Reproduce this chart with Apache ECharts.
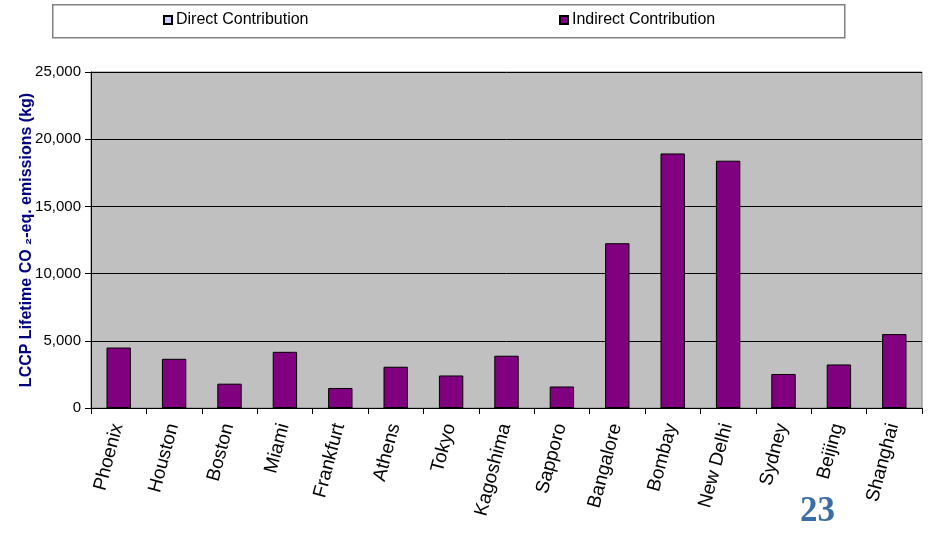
<!DOCTYPE html>
<html>
<head>
<meta charset="utf-8">
<script src="https://cdn.jsdelivr.net/npm/echarts@6/dist/echarts.min.js"></script>
<style>
html,body{margin:0;padding:0;background:#fff;}
#c{width:932px;height:534px;}
</style>
</head>
<body>
<div id="c"></div>
<script>
const categories = ["Phoenix","Houston","Boston","Miami","Frankfurt","Athens","Tokyo","Kagoshima","Sapporo","Bangalore","Bombay","New Delhi","Sydney","Beijing","Shanghai"];
const directValues = [0,0,0,0,0,0,0,0,0,0,0,0,0,0,0];
const indirectValues = [4500,3660,1810,4180,1490,3070,2420,3890,1600,12260,18940,18400,2530,3240,5500];
const yTicks = [0,5000,10000,15000,20000,25000];
const seriesNames = ["Direct Contribution","Indirect Contribution"];

const chart = echarts.init(document.getElementById('c'), null, {renderer:'canvas'});
const font = '"Liberation Sans", Arial, sans-serif';
const legendCommon = {
  itemWidth:8, itemHeight:8, itemGap:0, padding:0, top:12,
  textStyle:{fontFamily:font, fontSize:16, color:'#000', padding:[0,0,0,-1]},
  icon:'rect'
};
chart.setOption({
  animation:false,
  backgroundColor:'#ffffff',
  legend:[
    Object.assign({data:[seriesNames[0]], left:163}, legendCommon),
    Object.assign({data:[seriesNames[1]], left:559}, legendCommon)
  ],
  graphic:[
    {type:'rect', left:52, top:4, shape:{width:792,height:33}, style:{fill:'#fff', stroke:'#808080', lineWidth:1.5}, silent:true, z:-10},
    {type:'text', left:800, top:494, style:{text:'23', font:'bold 35px "Liberation Serif", "Times New Roman", serif', fill:'#3A6EA5'}}
  ],
  grid:{left:91, right:10, top:72, bottom:126, show:true, backgroundColor:'#C0C0C0', borderColor:'#808080', borderWidth:1},
  xAxis:{
    type:'category', data:categories,
    axisLine:{show:true, lineStyle:{color:'#000', width:1}},
    axisTick:{show:true, length:6, lineStyle:{color:'#000'}},
    axisLabel:{rotate:75, fontFamily:font, fontSize:19, color:'#000', margin:12, interval:0, padding:[0,4,22,0]}
  },
  yAxis:{
    type:'value', min:0, max:25000, interval:5000,
    name:'LCCP Lifetime CO ₂-eq. emissions (kg)',
    nameLocation:'middle', nameGap:56, nameMoveOverlap:false,
    nameTextStyle:{fontFamily:font, fontSize:16, fontWeight:'bold', color:'#000080'},
    axisLine:{show:true, lineStyle:{color:'#000'}},
    axisTick:{show:true, length:6, lineStyle:{color:'#000'}},
    axisLabel:{fontFamily:font, fontSize:15, color:'#000', margin:10,
      formatter:function(v){return yTicks.indexOf(v)>=0 ? v.toLocaleString('en-US') : '';}},
    splitLine:{show:true, lineStyle:{color:'#000', width:1}}
  },
  series:[
    {name:seriesNames[0], type:'bar', stack:'s', data:directValues, barWidth:'44%',
      itemStyle:{color:'#CCCCFF', borderColor:'#000', borderWidth:1}},
    {name:seriesNames[1], type:'bar', stack:'s', data:indirectValues, barWidth:'44%',
      itemStyle:{color:'#800080', borderColor:'#000', borderWidth:1}}
  ]
});
</script>
</body>
</html>
